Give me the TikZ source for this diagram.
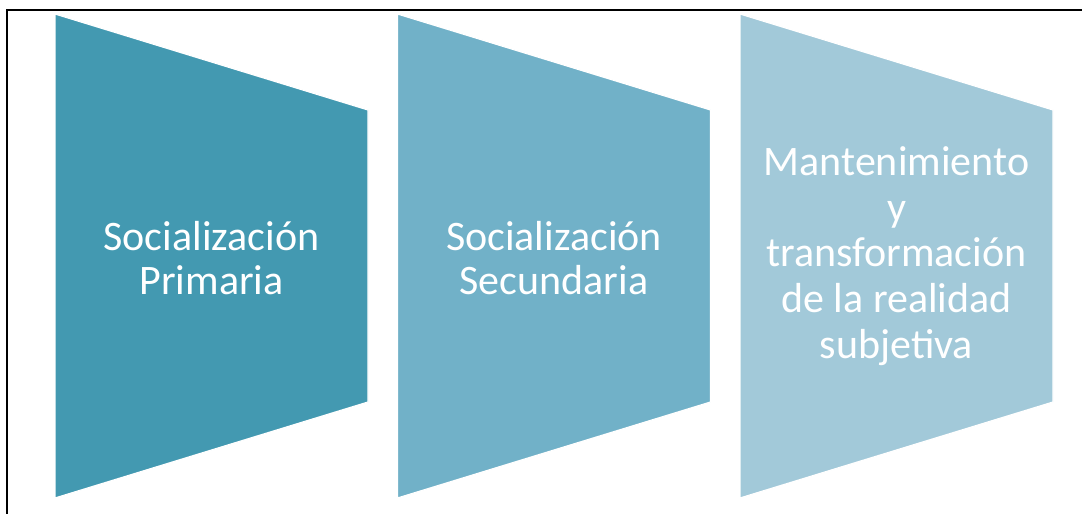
\documentclass[tikz,border=0pt]{standalone}
\usepackage{fontspec}
\setmainfont{Carlito}
\definecolor{primblue}{RGB}{67,153,177}
\definecolor{secblue}{RGB}{113,177,200}
\definecolor{mantblue}{RGB}{162,201,217}
\begin{document}
\begin{tikzpicture}[%
  x=0.5pt,
  y=-0.5pt,
  blockstyle/.style={%
    draw=white,
    line width=0.6pt,
  },
  labelstyle/.style={%
    text=white,
    align=center,
    inner sep=0pt,
    font=\fontsize{21}{22}\selectfont,
  }
]
  \useasboundingbox (0,0) rectangle (1082,514);
  % frame
  \draw[line width=1pt] (7,514) -- (7,10) -- (1082,10);
  % trapezoids
  \path[blockstyle, fill=primblue] (55,14) -- (368,110) -- (368,402) -- (55,498) -- cycle;
  \path[blockstyle, fill=secblue] (397.5,14) -- (710.5,110) -- (710.5,402) -- (397.5,498) -- cycle;
  \path[blockstyle, fill=mantblue] (740,14) -- (1053,110) -- (1053,402) -- (740,498) -- cycle;
  % labels
  \node [labelstyle] (prim) at (211.5,258) {Socialización\\Primaria};
  \node [labelstyle] (sec) at (554,258) {Socialización\\Secundaria};
  \node [labelstyle, font=\fontsize{21}{22.8}\selectfont] (mant) at (896.5,256) {Mantenimiento\\y\\transformación\\de la realidad\\subjetiva};
\end{tikzpicture}
\end{document}
